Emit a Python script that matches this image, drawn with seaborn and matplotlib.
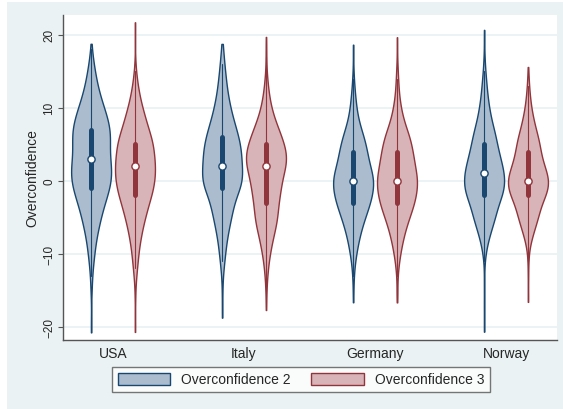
import numpy as np
import pandas as pd
import matplotlib
matplotlib.use("Agg")
import matplotlib.pyplot as plt
from matplotlib.patches import Patch, Rectangle
import seaborn as sns

# ==========================================
# DATA (counts of answers per overconfidence score)
# ==========================================
countries = ["USA", "Italy", "Germany", "Norway"]
measures = ["Overconfidence 2", "Overconfidence 3"]

scores = [-20, -19, -18, -17, -16, -15, -14, -13, -12, -11,
          -10, -9, -8, -7, -6, -5, -4, -3, -2, -1,
          0, 1, 2, 3, 4, 5, 6, 7, 8, 9,
          10, 11, 12, 13, 14, 15, 16, 17, 18, 19,
          20, 21]

usa_oc2 = [1, 0, 0, 0, 0, 1, 1, 1, 2, 3,
           4, 5, 6, 8, 10, 12, 14, 17, 20, 23,
           25, 26, 25, 23, 22, 23, 24, 24, 22, 19,
           16, 13, 10, 8, 6, 5, 3, 2, 1, 0,
           0, 0]
usa_oc3 = [1, 0, 0, 0, 1, 0, 1, 2, 3, 4,
           5, 6, 8, 10, 12, 15, 18, 20, 25, 27,
           29, 30, 30, 29, 27, 28, 24, 20, 17, 14,
           11, 8, 6, 4, 3, 1, 1, 0, 0, 0,
           0, 1]
italy_oc2 = [0, 0, 1, 0, 0, 1, 0, 1, 2, 3,
             4, 5, 6, 8, 10, 12, 14, 16, 17, 26,
             28, 27, 26, 25, 26, 24, 22, 19, 16, 13,
             11, 9, 7, 6, 5, 4, 3, 2, 2, 0,
             0, 0]
italy_oc3 = [0, 0, 0, 1, 0, 1, 1, 2, 3, 4,
             6, 8, 10, 13, 16, 18, 18, 19, 21, 23,
             24, 26, 32, 32, 32, 28, 24, 20, 15, 11,
             8, 6, 4, 3, 2, 1, 0, 1, 0, 1,
             0, 0]
germany_oc2 = [0, 0, 0, 0, 1, 0, 1, 1, 2, 3,
               5, 7, 9, 12, 15, 19, 23, 27, 30, 32,
               33, 31, 26, 24, 22, 20, 17, 13, 9, 7,
               5, 4, 3, 2, 1, 1, 0, 0, 1, 0,
               0, 0]
germany_oc3 = [0, 0, 0, 0, 1, 1, 0, 1, 2, 3,
               5, 7, 9, 12, 15, 19, 23, 27, 29, 31,
               32, 30, 27, 26, 24, 22, 20, 15, 11, 8,
               6, 4, 3, 2, 2, 1, 1, 0, 0, 1,
               0, 0]
norway_oc2 = [1, 0, 0, 1, 0, 0, 1, 0, 0, 1,
              2, 4, 7, 10, 14, 18, 20, 22, 30, 32,
              33, 32, 29, 26, 23, 20, 19, 16, 12, 10,
              8, 6, 5, 4, 3, 2, 1, 1, 0, 0,
              1, 0]
norway_oc3 = [0, 0, 0, 0, 1, 0, 0, 1, 0, 1,
              1, 3, 6, 10, 14, 18, 21, 24, 32, 36,
              38, 34, 29, 25, 22, 21, 18, 14, 11, 8,
              6, 4, 3, 2, 1, 1, 0, 0, 0, 0,
              0, 0]

counts = {
    ("USA", "Overconfidence 2"): usa_oc2,
    ("USA", "Overconfidence 3"): usa_oc3,
    ("Italy", "Overconfidence 2"): italy_oc2,
    ("Italy", "Overconfidence 3"): italy_oc3,
    ("Germany", "Overconfidence 2"): germany_oc2,
    ("Germany", "Overconfidence 3"): germany_oc3,
    ("Norway", "Overconfidence 2"): norway_oc2,
    ("Norway", "Overconfidence 3"): norway_oc3,
}

# ==========================================
# STYLE
# ==========================================
BG = "#eaf2f3"
fill_colors = {"Overconfidence 2": "#aabccd", "Overconfidence 3": "#d8b3b7"}
line_colors = {"Overconfidence 2": "#1a476f", "Overconfidence 3": "#90353b"}
AXIS_COLOR = "#555555"

sns.set_style("white")
plt.rcParams["font.family"] = ["Liberation Sans", "DejaVu Sans"]

# long table: one row per answer
rows = []
for (country, measure), cnt in counts.items():
    vals = np.repeat(scores, cnt)
    rows.append(pd.DataFrame({"country": country, "measure": measure, "score": vals}))
df = pd.concat(rows, ignore_index=True)

W, H = 563, 410
fig = plt.figure(figsize=(W / 100, H / 100), dpi=100, facecolor="white")
fig.patches.append(Rectangle((7 / W, 0), 1, 1 - 3 / H, transform=fig.transFigure,
                             facecolor=BG, edgecolor="none", zorder=-10))

ax = fig.add_axes([63 / W, 1 - 341 / H, (557 - 63) / W, (341 - 16) / H])
ax.set_facecolor("white")

# one call per measure so each gets its own outline colour
for measure in measures:
    sub = df[df["measure"] == measure]
    sns.violinplot(data=sub, x="country", y="score", hue="measure",
                   order=countries, hue_order=measures, palette=fill_colors,
                   linecolor=line_colors[measure], linewidth=1.0, saturation=1,
                   density_norm="width", cut=0.5, bw_adjust=0.8,
                   width=0.67, gap=0.09, dodge=True, inner="box",
                   inner_kws=dict(box_width=3.6, whis_width=0.8, marker="o", markersize=5.2),
                   legend=False, ax=ax)

# median dots: white with a dark ring
for line in ax.lines:
    if line.get_marker() == "o":
        line.set_markeredgecolor(line.get_color())
        line.set_markerfacecolor("white")
        line.set_markeredgewidth(1.0)

ax.set_xlim(-0.382, 3.389)
ax.set_ylim(-21.8, 22.7)
ax.set_yticks([-20, -10, 0, 10, 20])
ax.set_axisbelow(True)
ax.yaxis.grid(True, color=BG, linewidth=1.3)
ax.xaxis.grid(False)

for side in ["top", "right"]:
    ax.spines[side].set_visible(False)
for side in ["left", "bottom"]:
    ax.spines[side].set_color(AXIS_COLOR)
    ax.spines[side].set_linewidth(1.0)

ax.tick_params(axis="y", left=True, length=3.6, width=0.8, color=AXIS_COLOR,
               labelsize=8.5, pad=2, labelrotation=90)
for lab in ax.get_yticklabels():
    lab.set_va("center")
ax.tick_params(axis="x", bottom=False, length=0, labelsize=10, pad=4)

ax.set_xlabel("")
ax.set_ylabel("Overconfidence", fontsize=10)
ax.yaxis.set_label_coords(-0.048, 0.5)

handles = [Patch(facecolor=fill_colors[m], edgecolor=line_colors[m], linewidth=1.0) for m in measures]
leg = fig.legend(handles, measures, loc="center", bbox_to_anchor=(301 / W, 1 - 380.5 / H),
                 ncol=2, frameon=True, fancybox=False, fontsize=10,
                 handlelength=3.75, handleheight=1.0, handletextpad=0.8,
                 columnspacing=1.5, borderpad=0.4, borderaxespad=0)
leg.get_frame().set_edgecolor(AXIS_COLOR)
leg.get_frame().set_linewidth(1.0)
leg.get_frame().set_facecolor("white")

fig.savefig("out.png", dpi=100, facecolor=fig.get_facecolor())
